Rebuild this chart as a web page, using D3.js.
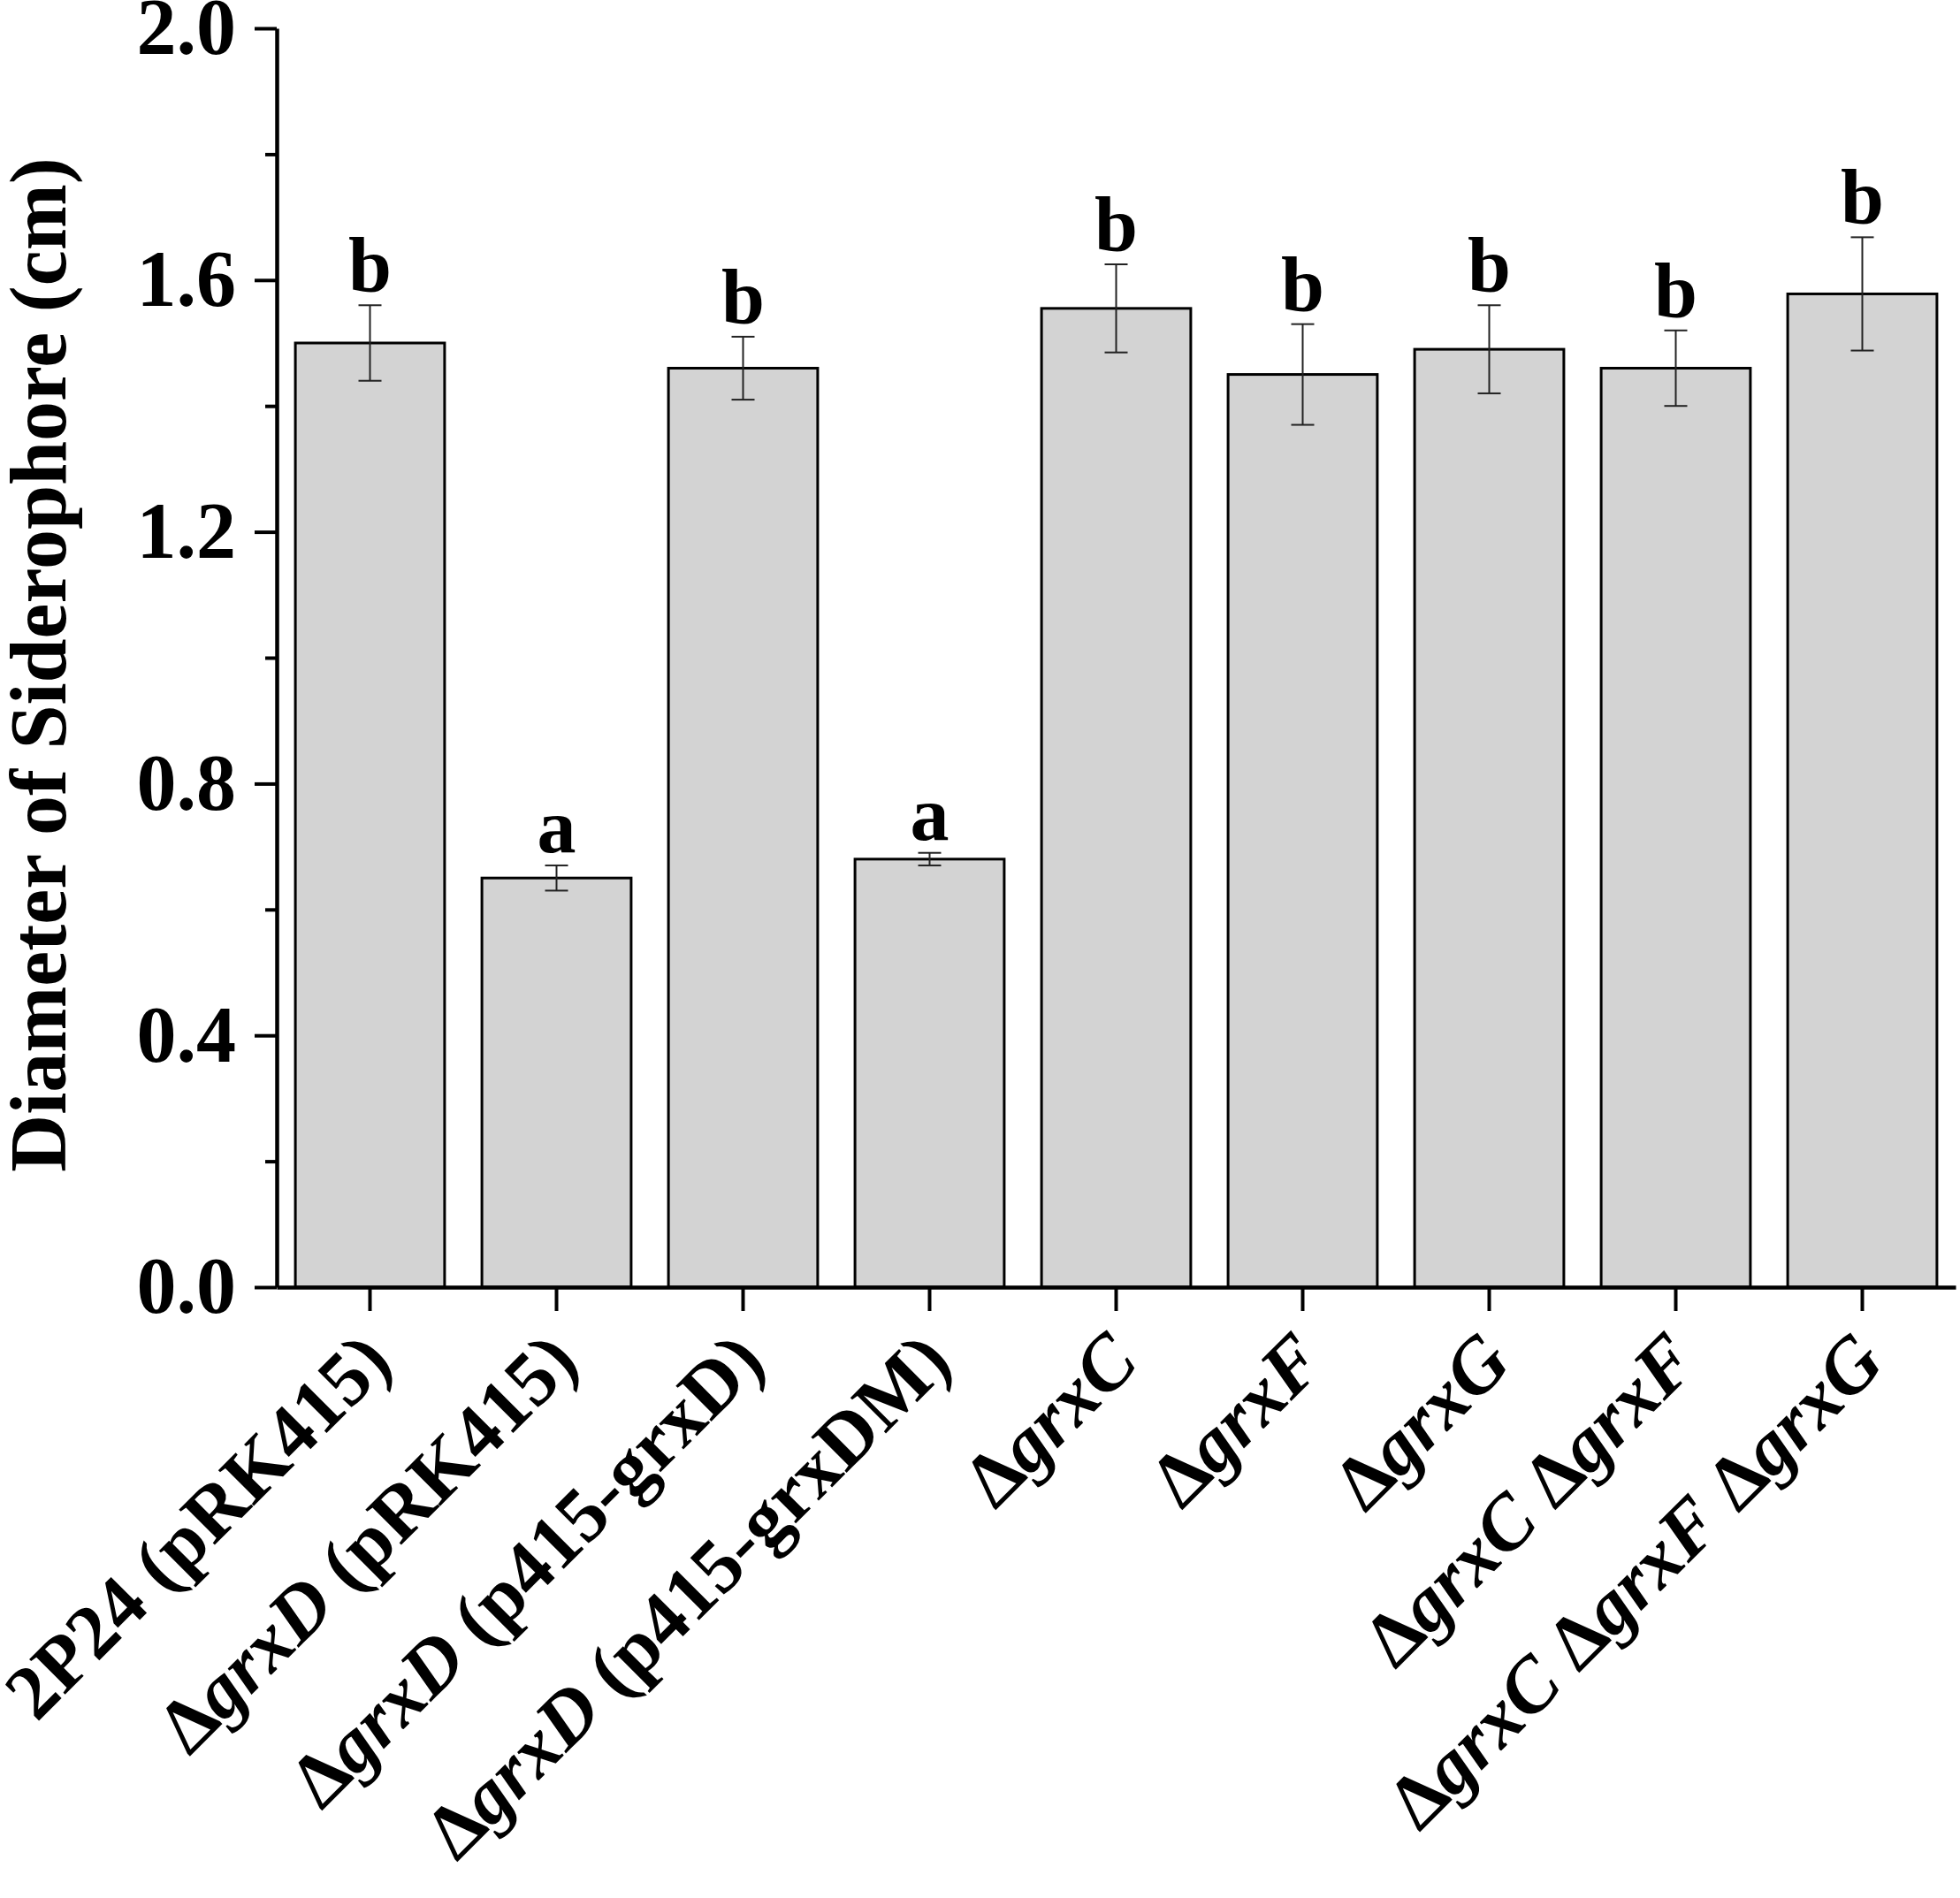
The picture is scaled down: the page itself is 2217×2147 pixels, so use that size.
<!DOCTYPE html>
<html>
<head>
<meta charset="utf-8">
<script src="https://cdn.jsdelivr.net/npm/d3@7"></script>
<style>
  body { margin: 0; background: #fff; }
  text { font-family: "Liberation Serif", "Times New Roman", serif; font-weight: bold; }
</style>
</head>
<body>
<svg class="chart"></svg>
<script>
let width = 2217,
  height = 2147;

// data
let categories = [
  "2P24 (pRK415)",
  "ΔgrxD (pRK415)",
  "ΔgrxD (p415-grxD)",
  "ΔgrxD (p415-grxDM)",
  "ΔgrxC",
  "ΔgrxF",
  "ΔgrxG",
  "ΔgrxC ΔgrxF",
  "ΔgrxC ΔgrxF ΔgrxG"
];
let means = [1.50, 0.65, 1.46, 0.68, 1.555, 1.45, 1.49, 1.46, 1.578];
let errors = [0.06, 0.02, 0.05, 0.01, 0.07, 0.08, 0.07, 0.06, 0.09];
let letters = ["b", "a", "b", "a", "b", "b", "b", "b", "b"];
let yTicks = [0, 0.4, 0.8, 1.2, 1.6, 2.0];
let yMinorTicks = [0.2, 0.6, 1.0, 1.4, 1.8];

let plotLeft = 313, plotRight = 2212, plotTop = 32, plotBottom = 1456;

let svg = d3.select(".chart").attr("width", width).attr("height", height);

let x = d3.scaleBand()
  .domain(categories)
  .range([plotLeft, plotRight])
  .paddingInner(0.2)
  .paddingOuter(0.1);

let y = d3.scaleLinear().domain([0, 2]).range([plotBottom, plotTop]);

let rows = categories.map((c, i) => ({ c: c, m: means[i], e: errors[i], l: letters[i] }));
let cx = d => x(d.c) + x.bandwidth() / 2;

// bars
svg.selectAll(".bar")
  .data(rows)
  .enter()
  .append("rect")
  .attr("class", "bar")
  .attr("x", d => x(d.c))
  .attr("width", x.bandwidth())
  .attr("y", d => y(d.m))
  .attr("height", d => y(0) - y(d.m))
  .attr("fill", "#d3d3d3")
  .attr("stroke", "#000")
  .attr("stroke-width", 3);

// error bars
let eb = svg.selectAll(".err").data(rows).enter().append("g").attr("class", "err")
  .attr("stroke", "#222").attr("stroke-width", 2);
eb.append("line")
  .attr("x1", cx).attr("x2", cx)
  .attr("y1", d => y(d.m - d.e))
  .attr("y2", d => y(d.m + d.e));
eb.append("line")
  .attr("x1", d => cx(d) - 13).attr("x2", d => cx(d) + 13)
  .attr("y1", d => y(d.m + d.e))
  .attr("y2", d => y(d.m + d.e));
eb.append("line")
  .attr("x1", d => cx(d) - 13).attr("x2", d => cx(d) + 13)
  .attr("y1", d => y(d.m - d.e))
  .attr("y2", d => y(d.m - d.e));

// significance letters
svg.selectAll(".letter")
  .data(rows)
  .enter()
  .append("text")
  .attr("class", "letter")
  .attr("x", cx)
  .attr("y", d => y(d.m + d.e) - 15)
  .attr("text-anchor", "middle")
  .attr("font-size", 88)
  .text(d => d.l);

// y axis
let yAxis = svg.append("g")
  .attr("transform", "translate(" + plotLeft + ",0)")
  .call(d3.axisLeft(y).tickValues(yTicks).tickFormat(d3.format(".1f"))
    .tickSize(25).tickSizeOuter(0).tickPadding(21));
svg.append("g")
  .attr("transform", "translate(" + plotLeft + ",0)")
  .call(d3.axisLeft(y).tickValues(yMinorTicks).tickFormat("").tickSize(13).tickSizeOuter(0))
  .call(g => g.select(".domain").remove());

// x axis
let xAxis = svg.append("g")
  .attr("transform", "translate(0," + plotBottom + ")")
  .call(d3.axisBottom(x).tickSize(27).tickSizeOuter(0).tickFormat(""));

svg.selectAll(".domain").attr("stroke", "#000").attr("stroke-width", 4.5);
svg.selectAll(".tick line").attr("stroke", "#000").attr("stroke-width", 4);
yAxis.selectAll(".tick text")
  .attr("font-size", 90)
  .attr("font-family", "Liberation Serif")
  .attr("font-weight", "bold")
  .attr("fill", "#000");

// rotated category labels, grx gene names after Δ in italics
xAxis.selectAll(".tick").each(function (d) {
  let t = d3.select(this).append("text")
    .attr("transform", "translate(28,88) rotate(-45)")
    .attr("text-anchor", "end")
    .attr("font-size", 87)
    .attr("font-family", "Liberation Serif")
    .attr("font-weight", "bold")
    .attr("fill", "#000");
  let parts = d.split(/(Δgrx[A-Z])/);
  parts.forEach(function (part) {
    if (part === "") return;
    if (part.startsWith("Δ")) {
      t.append("tspan").text("Δ");
      t.append("tspan").attr("font-style", "italic").text(part.slice(1));
    } else {
      t.append("tspan").text(part);
    }
  });
});

// y axis title
svg.append("text")
  .attr("transform", "translate(74,752) rotate(-90)")
  .attr("text-anchor", "middle")
  .attr("font-size", 90)
  .text("Diameter of Siderophore (cm)");
</script>
</body>
</html>
